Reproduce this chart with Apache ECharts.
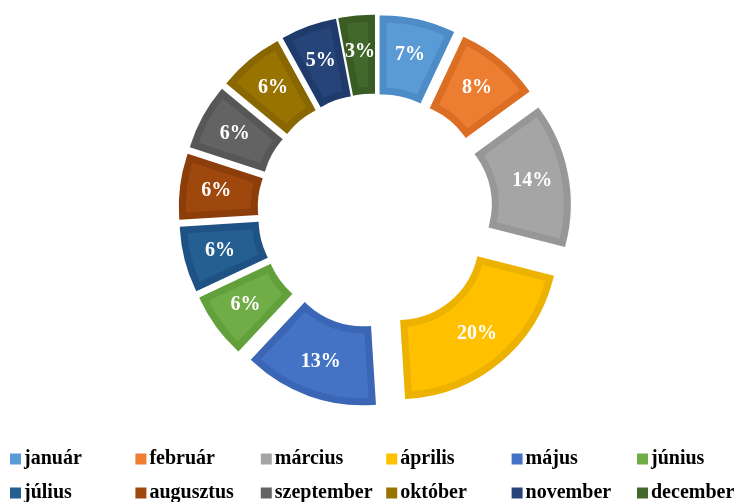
<!DOCTYPE html>
<html>
<head>
<meta charset="utf-8">
<script src="https://cdn.jsdelivr.net/npm/echarts@6/dist/echarts.min.js"></script>
<style>
  html, body { margin: 0; padding: 0; background: #fff; }
  #main { width: 742px; height: 502px; }
</style>
</head>
<body>
<div id="main"></div>
<script>
var months = ['január', 'február', 'március', 'április', 'május', 'június',
  'július', 'augusztus', 'szeptember', 'október', 'november', 'december'];
var shares = [7, 8, 14, 20, 13, 6, 6, 6, 6, 6, 5, 3];
var fills = ['#5B9BD5', '#ED7D31', '#A5A5A5', '#FFC000', '#4472C4', '#70AD47',
  '#255E91', '#9E480E', '#636363', '#997300', '#264478', '#43682B'];
var edges = ['#4D8CC6', '#DC6E24', '#979797', '#EDB100', '#3A66B5', '#62A03B',
  '#1F5284', '#8C3E0A', '#575757', '#886600', '#1F3B6B', '#3A5C24'];

var pieData = [];
for (var i = 0; i < months.length; i++) {
  pieData.push({
    name: months[i],
    value: shares[i],
    selected: true,
    itemStyle: {
      color: fills[i],
      borderColor: edges[i],
      borderJoin: 'miter',
      borderMiterLimit: 20,
      borderRadius: 0
    }
  });
}

// one legend per item so the columns line up like the original
var legends = [];
for (var j = 0; j < months.length; j++) {
  legends.push({
    data: [months[j]],
    left: 10 + (j % 6) * 125.4,
    top: j < 6 ? 449 : 483,
    icon: 'rect',
    itemWidth: 11,
    itemHeight: 11,
    itemGap: 0,
    padding: 0,
    selectedMode: false,
    itemStyle: { borderWidth: 0 },
    textStyle: {
      fontFamily: 'Liberation Serif',
      fontWeight: 'bold',
      fontSize: 20,
      color: '#000',
      padding: [0, 0, 0, -2]
    }
  });
}

var chart = echarts.init(document.getElementById('main'));
chart.setOption({
  animation: false,
  color: fills,
  legend: legends,
  series: [{
    type: 'pie',
    center: [375, 211],
    radius: [84, 156],
    startAngle: 90,
    clockwise: true,
    selectedMode: 'multiple',
    selectedOffset: 37,
    avoidLabelOverlap: false,
    itemStyle: { borderWidth: 7, borderRadius: 0, borderJoin: 'miter' },
    emphasis: { scale: false, disabled: true },
    labelLayout: { hideOverlap: false },
    label: {
      show: true,
      position: 'inside',
      overflow: 'none',
      formatter: function (p) { return p.value + '%'; },
      color: '#fff',
      fontFamily: 'Liberation Serif',
      fontWeight: 'bold',
      fontSize: 20
    },
    labelLine: { show: false },
    data: pieData
  }]
});
</script>
</body>
</html>
